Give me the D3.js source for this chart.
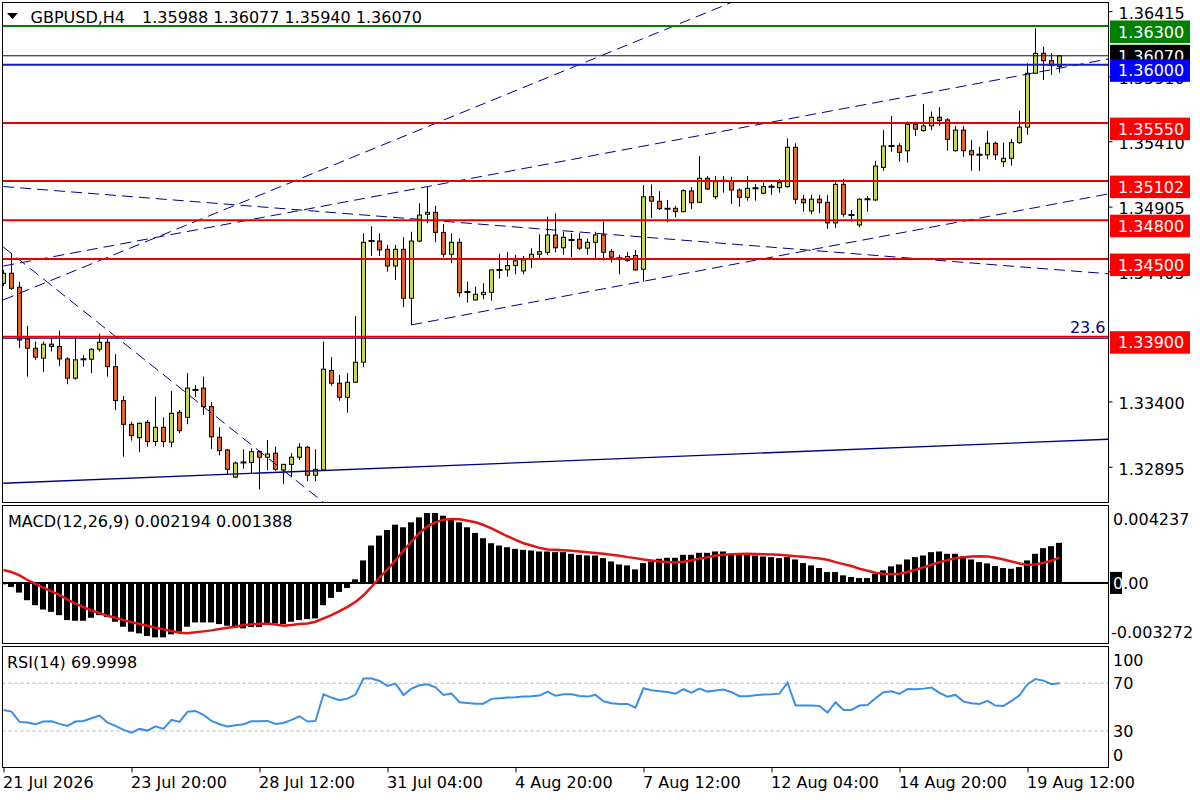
<!DOCTYPE html>
<html>
<head>
<meta charset="utf-8">
<script src="https://cdn.jsdelivr.net/npm/d3@7"></script>
<style>
  body { margin: 0; background: #fff; }
  svg { display: block; font-family: "DejaVu Sans", sans-serif; font-size: 16px; }
</style>
</head>
<body>
<svg id="chart" width="1200" height="800"></svg>
<script>
const symbolName = "GBPUSD,H4";

const barOpen = [
  1.34313, 1.34390, 1.34282, 1.33883, 1.33811, 1.33734, 1.33842, 1.33824, 1.33728, 1.33580,
  1.33726, 1.33726, 1.33803, 1.33857, 1.33669, 1.33406, 1.33223, 1.33120, 1.33239, 1.33090,
  1.33200, 1.33085, 1.33316, 1.33277, 1.33488, 1.33503, 1.33360, 1.33123, 1.33025, 1.32816,
  1.32929, 1.32929, 1.33012, 1.32969, 1.33000, 1.32870, 1.32914, 1.32969, 1.33046, 1.32830,
  1.32870, 1.33638, 1.33541, 1.33432, 1.33548, 1.33703, 1.34639, 1.34639, 1.34575, 1.34446,
  1.34575, 1.34197, 1.34639, 1.34846, 1.34861, 1.34706, 1.34537, 1.34629, 1.34246, 1.34184,
  1.34225, 1.34243, 1.34416, 1.34416, 1.34450, 1.34408, 1.34498, 1.34537, 1.34552, 1.34686,
  1.34587, 1.34647, 1.34652, 1.34584, 1.34629, 1.34686, 1.34557, 1.34506, 1.34488, 1.34527,
  1.34421, 1.34981, 1.34946, 1.34889, 1.34892, 1.34866, 1.35026, 1.34938, 1.35124, 1.34981,
  1.35105, 1.35105, 1.35033, 1.34977, 1.35046, 1.35008, 1.35059, 1.35051, 1.35059, 1.35363,
  1.34962, 1.34871, 1.34962, 1.34938, 1.34779, 1.35077, 1.34840, 1.34763, 1.34962, 1.34956,
  1.35208, 1.35373, 1.35375, 1.35336, 1.35541, 1.35492, 1.35528, 1.35595, 1.35575, 1.35337,
  1.35496, 1.35337, 1.35305, 1.35305, 1.35394, 1.35252, 1.35278, 1.35399, 1.35519, 1.35935,
  1.36089, 1.36032, 1.35988
];
const barHigh = [
  1.34416, 1.34545, 1.34325, 1.33983, 1.33862, 1.33862, 1.33888, 1.33947, 1.33742, 1.33888,
  1.33759, 1.33811, 1.33922, 1.33883, 1.33765, 1.33442, 1.33243, 1.33236, 1.33257, 1.33437,
  1.33277, 1.33480, 1.33334, 1.33618, 1.33527, 1.33592, 1.33396, 1.33200, 1.33033, 1.32937,
  1.33030, 1.33038, 1.33020, 1.33102, 1.33051, 1.32917, 1.33000, 1.33077, 1.33056, 1.33030,
  1.33862, 1.33742, 1.33605, 1.33618, 1.34060, 1.34699, 1.34753, 1.34699, 1.34609, 1.34609,
  1.34668, 1.34711, 1.34931, 1.35059, 1.34910, 1.34770, 1.34699, 1.34660, 1.34325, 1.34287,
  1.34313, 1.34416, 1.34540, 1.34553, 1.34532, 1.34524, 1.34583, 1.34691, 1.34827, 1.34853,
  1.34711, 1.34699, 1.34699, 1.34660, 1.34711, 1.34789, 1.34578, 1.34532, 1.34553, 1.34570,
  1.35072, 1.35076, 1.35024, 1.34956, 1.34910, 1.35039, 1.35055, 1.35296, 1.35142, 1.35142,
  1.35142, 1.35136, 1.35046, 1.35142, 1.35080, 1.35090, 1.35080, 1.35118, 1.35432, 1.35394,
  1.34995, 1.34995, 1.34995, 1.34995, 1.35098, 1.35118, 1.34879, 1.34969, 1.34987, 1.35259,
  1.35496, 1.35605, 1.35394, 1.35561, 1.35561, 1.35698, 1.35639, 1.35673, 1.35588, 1.35528,
  1.35528, 1.35419, 1.35367, 1.35491, 1.35407, 1.35399, 1.35425, 1.35646, 1.36012, 1.36282,
  1.36140, 1.36089, 1.36077
];
const barLow = [
  1.34292, 1.34261, 1.33811, 1.33592, 1.33721, 1.33626, 1.33785, 1.33674, 1.33533, 1.33567,
  1.33669, 1.33618, 1.33785, 1.33592, 1.33334, 1.32973, 1.33097, 1.33007, 1.33051, 1.33056,
  1.33046, 1.33046, 1.33154, 1.33223, 1.33434, 1.33296, 1.33033, 1.32984, 1.32832, 1.32808,
  1.32880, 1.32844, 1.32720, 1.32870, 1.32864, 1.32763, 1.32813, 1.32948, 1.32784, 1.32784,
  1.32862, 1.33520, 1.33406, 1.33313, 1.33543, 1.33664, 1.34524, 1.34524, 1.34402, 1.34338,
  1.34128, 1.33991, 1.34631, 1.34776, 1.34631, 1.34514, 1.34468, 1.34209, 1.34163, 1.34179,
  1.34189, 1.34179, 1.34350, 1.34365, 1.34383, 1.34383, 1.34429, 1.34506, 1.34532, 1.34553,
  1.34532, 1.34514, 1.34570, 1.34532, 1.34498, 1.34488, 1.34473, 1.34383, 1.34480, 1.34410,
  1.34325, 1.34817, 1.34879, 1.34784, 1.34823, 1.34861, 1.34886, 1.34933, 1.35033, 1.34962,
  1.35013, 1.34925, 1.34904, 1.34951, 1.34951, 1.35000, 1.34995, 1.35013, 1.35051, 1.34925,
  1.34866, 1.34846, 1.34853, 1.34733, 1.34740, 1.34827, 1.34789, 1.34746, 1.34866, 1.34951,
  1.35182, 1.35329, 1.35252, 1.35245, 1.35450, 1.35484, 1.35496, 1.35528, 1.35337, 1.35329,
  1.35290, 1.35182, 1.35180, 1.35271, 1.35265, 1.35213, 1.35221, 1.35389, 1.35459, 1.35930,
  1.35883, 1.35922, 1.35940
];
const barClose = [
  1.34390, 1.34274, 1.33875, 1.33811, 1.33742, 1.33842, 1.33824, 1.33728, 1.33580, 1.33721,
  1.33723, 1.33803, 1.33857, 1.33669, 1.33406, 1.33223, 1.33136, 1.33231, 1.33090, 1.33200,
  1.33090, 1.33308, 1.33174, 1.33503, 1.33496, 1.33360, 1.33126, 1.33020, 1.32876, 1.32924,
  1.32927, 1.33012, 1.32969, 1.32994, 1.32876, 1.32914, 1.32969, 1.33046, 1.32830, 1.32876,
  1.33649, 1.33541, 1.33432, 1.33548, 1.33703, 1.34629, 1.34636, 1.34570, 1.34446, 1.34575,
  1.34197, 1.34639, 1.34840, 1.34861, 1.34706, 1.34537, 1.34629, 1.34240, 1.34242, 1.34228,
  1.34243, 1.34416, 1.34414, 1.34450, 1.34486, 1.34493, 1.34537, 1.34557, 1.34686, 1.34587,
  1.34668, 1.34645, 1.34584, 1.34629, 1.34686, 1.34552, 1.34514, 1.34504, 1.34519, 1.34416,
  1.34981, 1.34947, 1.34889, 1.34887, 1.34866, 1.35028, 1.34935, 1.35124, 1.35041, 1.35098,
  1.35103, 1.35033, 1.34977, 1.35046, 1.35044, 1.35059, 1.35057, 1.35090, 1.35363, 1.34962,
  1.34935, 1.34962, 1.34935, 1.34779, 1.35077, 1.34846, 1.34839, 1.34962, 1.34960, 1.35218,
  1.35373, 1.35371, 1.35324, 1.35541, 1.35503, 1.35528, 1.35595, 1.35569, 1.35425, 1.35496,
  1.35337, 1.35305, 1.35302, 1.35394, 1.35305, 1.35278, 1.35399, 1.35519, 1.35935, 1.36089,
  1.36032, 1.35994, 1.36070
];

const macdMain = [
  -0.000076, -0.000221, -0.000530, -0.000947, -0.001219, -0.001455, -0.001582, -0.001764, -0.002035, -0.002072,
  -0.002072, -0.001908, -0.001764, -0.001872, -0.002126, -0.002398, -0.002670, -0.002761, -0.002906, -0.002979,
  -0.002979, -0.002815, -0.002670, -0.002398, -0.002162, -0.002162, -0.002162, -0.002253, -0.002343, -0.002434,
  -0.002489, -0.002416, -0.002416, -0.002253, -0.002217, -0.002253, -0.002126, -0.002035, -0.001981, -0.001944,
  -0.001219, -0.000820, -0.000493, -0.000276, 0.000196, 0.001230, 0.002046, 0.002590, 0.002898, 0.003189,
  0.003044, 0.003316, 0.003588, 0.003824, 0.003824, 0.003678, 0.003534, 0.003316, 0.003044, 0.002736,
  0.002445, 0.002173, 0.002046, 0.001955, 0.001864, 0.001811, 0.001774, 0.001720, 0.001720, 0.001683,
  0.001683, 0.001593, 0.001538, 0.001502, 0.001502, 0.001357, 0.001175, 0.001012, 0.000957, 0.000740,
  0.001085, 0.001175, 0.001321, 0.001375, 0.001375, 0.001538, 0.001538, 0.001647, 0.001647, 0.001720,
  0.001720, 0.001593, 0.001593, 0.001538, 0.001502, 0.001447, 0.001411, 0.001357, 0.001411, 0.001284,
  0.001085, 0.000957, 0.000813, 0.000595, 0.000595, 0.000414, 0.000323, 0.000268, 0.000268, 0.000504,
  0.000686, 0.000904, 0.001012, 0.001284, 0.001411, 0.001502, 0.001683, 0.001720, 0.001593, 0.001593,
  0.001465, 0.001284, 0.001139, 0.001066, 0.000922, 0.000813, 0.000776, 0.000867, 0.001230, 0.001593,
  0.001901, 0.002010, 0.002194
];
const macdSignal = [
  0.000704, 0.000595, 0.000414, 0.000159, -0.000058, -0.000258, -0.000457, -0.000657, -0.000910, -0.001128,
  -0.001327, -0.001509, -0.001654, -0.001799, -0.001908, -0.002035, -0.002144, -0.002253, -0.002343, -0.002452,
  -0.002543, -0.002634, -0.002724, -0.002761, -0.002706, -0.002652, -0.002598, -0.002525, -0.002452, -0.002398,
  -0.002307, -0.002271, -0.002235, -0.002235, -0.002271, -0.002343, -0.002307, -0.002253, -0.002217, -0.002126,
  -0.001944, -0.001764, -0.001545, -0.001310, -0.001037, -0.000675, -0.000221, 0.000287, 0.000740, 0.001230,
  0.001774, 0.002264, 0.002736, 0.003098, 0.003316, 0.003461, 0.003497, 0.003479, 0.003406, 0.003316,
  0.003171, 0.002989, 0.002772, 0.002554, 0.002354, 0.002173, 0.002046, 0.001919, 0.001829, 0.001810,
  0.001792, 0.001765, 0.001720, 0.001683, 0.001638, 0.001593, 0.001538, 0.001484, 0.001411, 0.001357,
  0.001284, 0.001230, 0.001175, 0.001139, 0.001121, 0.001157, 0.001230, 0.001339, 0.001411, 0.001502,
  0.001538, 0.001575, 0.001584, 0.001593, 0.001584, 0.001575, 0.001556, 0.001538, 0.001502, 0.001466,
  0.001429, 0.001384, 0.001339, 0.001266, 0.001139, 0.001030, 0.000922, 0.000776, 0.000668, 0.000559,
  0.000504, 0.000468, 0.000504, 0.000595, 0.000722, 0.000849, 0.000994, 0.001139, 0.001248, 0.001357,
  0.001411, 0.001448, 0.001466, 0.001448, 0.001375, 0.001284, 0.001175, 0.001067, 0.000994, 0.001012,
  0.001103, 0.001212, 0.001388
];
const rsiValues = [
  47.6, 46.2, 37.6, 37.0, 35.6, 37.9, 38.1, 35.9, 34.2, 37.9,
  38.4, 40.6, 42.9, 37.0, 34.2, 30.9, 28.6, 31.7, 30.3, 33.9,
  31.7, 39.3, 37.6, 46.2, 46.8, 43.4, 38.4, 35.6, 33.7, 34.8,
  35.6, 38.1, 38.1, 38.4, 35.9, 36.7, 39.3, 42.3, 37.9, 38.4,
  60.8, 58.0, 55.7, 57.1, 60.5, 73.9, 73.9, 71.9, 67.8, 69.7,
  60.2, 65.5, 68.3, 69.2, 66.6, 60.2, 61.3, 54.1, 53.5, 52.9,
  52.9, 56.9, 57.4, 58.0, 58.3, 58.8, 59.1, 59.7, 63.0, 59.6,
  60.8, 60.8, 59.4, 58.8, 60.2, 54.9, 53.2, 52.7, 52.7, 49.6,
  65.8, 64.1, 63.3, 62.7, 61.3, 65.0, 62.2, 65.5, 63.0, 63.9,
  64.7, 62.5, 59.1, 59.1, 59.9, 60.5, 60.8, 61.3, 70.6, 51.3,
  51.3, 51.3, 51.0, 45.4, 54.1, 47.6, 47.6, 51.3, 51.8, 57.4,
  62.5, 63.3, 61.1, 65.2, 65.0, 65.5, 66.4, 61.9, 58.8, 60.2,
  54.6, 53.2, 52.7, 55.2, 51.3, 51.0, 55.2, 59.9, 69.2, 73.6,
  72.2, 69.2, 69.9998
];

const timeLabels = ["21 Jul 2026", "23 Jul 20:00", "28 Jul 12:00", "31 Jul 04:00", "4 Aug 20:00",
  "7 Aug 12:00", "12 Aug 04:00", "14 Aug 20:00", "19 Aug 12:00"];
const timeLabelBars = [0, 16, 32, 48, 64, 80, 96, 112, 128];

// 1.33900 sits fully under its level label, so only the visible ticks are listed
const priceTicks = [1.36415, 1.35910, 1.35410, 1.34905, 1.34405, 1.33400, 1.32895];
const levelPrices = [1.36300, 1.36000, 1.35550, 1.35102, 1.34800, 1.34500, 1.33900];
const levelKinds = ["green", "blue", "red", "red", "red", "red", "red"];
const bidPrice = 1.36070;
const fibPrice = 1.33888;
const fibLabel = "23.6";

// trend lines as [bar, price] pairs
const trendStarts = [[-0.03, 1.34184], [-0.03, 1.34446], [-0.03, 1.35060], [-0.03, 1.34593], [50.97, 1.33991], [-0.03, 1.32768]];
const trendEnds = [[90.85, 1.36478], [138.1, 1.36045], [138.1, 1.34386], [40.2, 1.32611], [138.1, 1.35003], [138.1, 1.33108]];
const trendDashed = [true, true, true, true, true, false];

const macdTicks = [0.004237, -0.003272];
const macdTickText = ["0.004237", "-0.003272"];
const rsiTicks = [100, 70, 30, 0];
const rsiLevels = [70, 30];

const bullColor = "#c4d654";
const bearColor = "#e2652e";
const navy = "#000080";
const levelStroke = { green: "#008000", blue: "#1020b8", red: "#e60000" };
const levelFill = { green: "#008000", blue: "#0000ff", red: "#ff0000" };

const left = 2.5;
const right = 1108.5;
const panels = { main: [2.5, 502.5], macd: [505.5, 643.5], rsi: [646.5, 767.5] };

const svg = d3.select("#chart");
const last = barClose.length - 1;
const fmt5 = d3.format(".5f");
const fmt6 = d3.format(".6f");

const x = d3.scaleLinear().domain([0, last]).range([3.5, 3.5 + 8 * last]);
const y = d3.scaleLinear().domain([1.339, 1.363]).range([336.7, 26]);
const yMacd = d3.scaleLinear().domain([-0.003272, 0.004237]).range([642.7, 505.5]);
const yRsi = d3.scaleLinear().domain([0, 100]).range([766.7, 647.5]);

svg.append("rect").attr("width", 1200).attr("height", 800).attr("fill", "#fff");

const defs = svg.append("defs");
Object.entries(panels).forEach(([name, [top, bottom]]) => {
  defs.append("clipPath").attr("id", `clip-${name}`)
    .append("rect")
    .attr("x", left).attr("y", top)
    .attr("width", right - left).attr("height", bottom - top);
});

const bars = d3.range(barClose.length).map((i) => ({
  i, o: barOpen[i], h: barHigh[i], l: barLow[i], c: barClose[i],
}));

// ---- main panel ----
const main = svg.append("g").attr("clip-path", "url(#clip-main)");

main.selectAll("line.wick")
  .data(bars)
  .join("line")
  .attr("class", "wick")
  .attr("x1", (d) => x(d.i)).attr("x2", (d) => x(d.i))
  .attr("y1", (d) => y(d.h)).attr("y2", (d) => y(d.l))
  .attr("stroke", "#000").attr("stroke-width", 1);

const isDoji = (d) => Math.abs(y(d.o) - y(d.c)) < 1.2;

main.selectAll("rect.body")
  .data(bars.filter((d) => !isDoji(d)))
  .join("rect")
  .attr("class", "body")
  .attr("x", (d) => x(d.i) - 2)
  .attr("width", 4)
  .attr("y", (d) => y(Math.max(d.o, d.c)))
  .attr("height", (d) => Math.abs(y(d.o) - y(d.c)))
  .attr("fill", (d) => (d.c >= d.o ? bullColor : bearColor))
  .attr("stroke", "#000").attr("stroke-width", 1);

main.selectAll("line.doji")
  .data(bars.filter(isDoji))
  .join("line")
  .attr("class", "doji")
  .attr("x1", (d) => x(d.i) - 3).attr("x2", (d) => x(d.i) + 3)
  .attr("y1", (d) => y(d.o)).attr("y2", (d) => y(d.o))
  .attr("stroke", "#000").attr("stroke-width", 2);

// trend lines
main.selectAll("line.trend")
  .data(trendStarts.map((s, i) => ({ s, e: trendEnds[i], dashed: trendDashed[i] })))
  .join("line")
  .attr("class", "trend")
  .attr("x1", (d) => x(d.s[0])).attr("y1", (d) => y(d.s[1]))
  .attr("x2", (d) => x(d.e[0])).attr("y2", (d) => y(d.e[1]))
  .attr("stroke", navy)
  .attr("stroke-width", (d) => (d.dashed ? 1 : 1.3))
  .attr("stroke-dasharray", (d) => (d.dashed ? "11,6" : null));

// fibo level
main.append("line")
  .attr("x1", left).attr("x2", right)
  .attr("y1", y(fibPrice)).attr("y2", y(fibPrice))
  .attr("stroke", navy).attr("stroke-width", 1);

// bid line
main.append("line")
  .attr("x1", left).attr("x2", right)
  .attr("y1", y(bidPrice)).attr("y2", y(bidPrice))
  .attr("stroke", "#101030").attr("stroke-width", 1);

// horizontal levels
main.selectAll("line.level")
  .data(levelPrices.map((p, i) => ({ p, kind: levelKinds[i] })))
  .join("line")
  .attr("class", "level")
  .attr("x1", left).attr("x2", right)
  .attr("y1", (d) => y(d.p)).attr("y2", (d) => y(d.p))
  .attr("stroke", (d) => levelStroke[d.kind])
  .attr("stroke-width", 2);

svg.append("text")
  .attr("x", right - 3).attr("y", y(fibPrice) - 5)
  .attr("text-anchor", "end")
  .attr("fill", navy)
  .text(fibLabel);

// header
svg.append("path")
  .attr("d", "M7,13 L18,13 L12.5,19 Z")
  .attr("fill", "#000");
svg.append("text").attr("x", 30.5).attr("y", 22.5).attr("fill", "#000").text(symbolName);
svg.append("text").attr("x", 142).attr("y", 22.5).attr("fill", "#000")
  .text([barOpen[last], barHigh[last], barLow[last], barClose[last]].map(fmt5).join(" "));

// ---- MACD panel ----
const macdG = svg.append("g").attr("clip-path", "url(#clip-macd)");
macdG.selectAll("rect.hist")
  .data(macdMain.map((v, i) => ({ v, i })))
  .join("rect")
  .attr("class", "hist")
  .attr("x", (d) => x(d.i) - 3.5)
  .attr("width", 6)
  .attr("y", (d) => Math.min(yMacd(d.v), yMacd(0)))
  .attr("height", (d) => Math.abs(yMacd(d.v) - yMacd(0)))
  .attr("fill", "#000");

macdG.append("line")
  .attr("x1", left).attr("x2", right)
  .attr("y1", yMacd(0)).attr("y2", yMacd(0))
  .attr("stroke", "#000").attr("stroke-width", 2);

macdG.append("path")
  .datum(macdSignal)
  .attr("fill", "none")
  .attr("stroke", "#e31414")
  .attr("stroke-width", 2.5)
  .attr("d", d3.line().x((d, i) => x(i)).y((d) => yMacd(d)));

svg.append("text").attr("x", 8).attr("y", 527).attr("fill", "#000")
  .text(`MACD(12,26,9) ${fmt6(macdMain[last])} ${fmt6(macdSignal[last])}`);

// ---- RSI panel ----
const rsiG = svg.append("g").attr("clip-path", "url(#clip-rsi)");
rsiG.selectAll("line.rsiLevel")
  .data(rsiLevels)
  .join("line")
  .attr("class", "rsiLevel")
  .attr("x1", left).attr("x2", right)
  .attr("y1", (d) => yRsi(d)).attr("y2", (d) => yRsi(d))
  .attr("stroke", "#b4b4b4").attr("stroke-width", 1)
  .attr("stroke-dasharray", "3,3");

rsiG.append("path")
  .datum(rsiValues)
  .attr("fill", "none")
  .attr("stroke", "#3a8ee6")
  .attr("stroke-width", 2)
  .attr("d", d3.line().x((d, i) => x(i)).y((d) => yRsi(d)));

svg.append("text").attr("x", 7).attr("y", 668).attr("fill", "#000")
  .text(`RSI(14) ${d3.format(".4f")(rsiValues[last])}`);

// ---- frames ----
Object.values(panels).forEach(([top, bottom]) => {
  svg.append("rect")
    .attr("x", left).attr("y", top)
    .attr("width", right - left).attr("height", bottom - top)
    .attr("fill", "none").attr("stroke", "#000").attr("stroke-width", 1);
});

// ---- price axis ----
const priceAxis = svg.append("g")
  .attr("transform", `translate(${right},0)`)
  .call(d3.axisRight(y).tickValues(priceTicks).tickSize(4).tickPadding(6).tickFormat(fmt5));
priceAxis.select(".domain").remove();
priceAxis.selectAll("text")
  .attr("font-family", "DejaVu Sans").attr("font-size", 16).attr("fill", "#000")
  .attr("dy", "0.45em");

// bid label
svg.append("rect")
  .attr("x", 1110).attr("y", y(bidPrice) - 11).attr("width", 80).attr("height", 22)
  .attr("fill", "#000");
svg.append("text")
  .attr("x", 1118).attr("y", y(bidPrice) + 6)
  .attr("fill", "#fff").text(fmt5(bidPrice));

// level labels
const levelLabels = svg.selectAll("g.levelLabel")
  .data(levelPrices.map((p, i) => ({ p, kind: levelKinds[i] })))
  .join("g")
  .attr("class", "levelLabel")
  .attr("transform", (d) => `translate(1110,${y(d.p) - 5.5})`);
levelLabels.append("rect")
  .attr("width", 80).attr("height", 22.5)
  .attr("fill", (d) => levelFill[d.kind]);
levelLabels.append("text")
  .attr("x", 8).attr("y", 17)
  .attr("fill", "#fff")
  .text((d) => fmt5(d.p));

// MACD scale labels
svg.selectAll("text.macdTick")
  .data(macdTicks.map((v, i) => ({ v, t: macdTickText[i] })))
  .join("text")
  .attr("class", "macdTick")
  .attr("x", (d) => (d.v < 0 ? 1111 : 1113))
  .attr("y", (d) => (d.v > 0 ? yMacd(d.v) + 19 : yMacd(d.v) - 5))
  .attr("fill", "#000")
  .text((d) => d.t);

svg.append("rect").attr("x", 1110).attr("y", yMacd(0) - 11).attr("width", 12).attr("height", 22).attr("fill", "#000");
const zeroText = svg.append("text").attr("x", 1113).attr("y", yMacd(0) + 6);
zeroText.append("tspan").attr("fill", "#fff").text("0");
zeroText.append("tspan").attr("fill", "#000").text(".00");

// RSI scale labels
svg.selectAll("text.rsiTick")
  .data(rsiTicks)
  .join("text")
  .attr("class", "rsiTick")
  .attr("x", 1113)
  .attr("y", (d) => (d === 100 ? yRsi(d) + 18 : d === 0 ? yRsi(d) - 6 : yRsi(d) + 6))
  .attr("fill", "#000")
  .text((d) => d);

// ---- time axis ----
const timeAxis = svg.append("g")
  .attr("transform", `translate(0,${panels.rsi[1]})`)
  .call(d3.axisBottom(x).tickValues(timeLabelBars).tickSize(5).tickPadding(4)
    .tickFormat((d, i) => timeLabels[i]));
timeAxis.select(".domain").remove();
timeAxis.selectAll("text")
  .attr("font-family", "DejaVu Sans").attr("font-size", 16).attr("fill", "#000")
  .attr("text-anchor", "start").attr("x", -1);
</script>
</body>
</html>
